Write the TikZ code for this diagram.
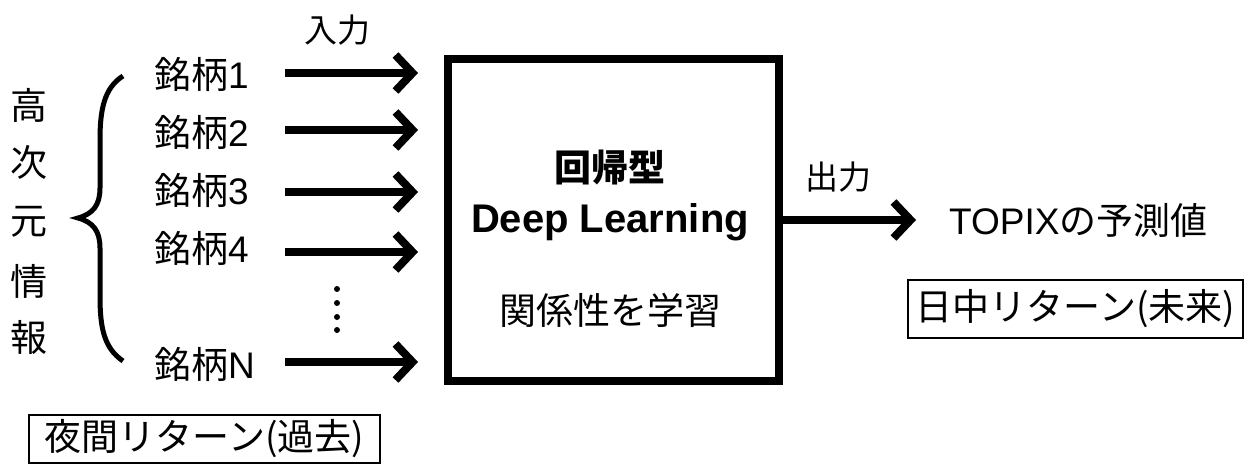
\documentclass[tikz,border=0pt]{standalone}
\usepackage{fontspec}
\setmainfont{Liberation Sans}
\newfontfamily\cjk{Noto Sans CJK JP}
\usetikzlibrary{arrows.meta}
\tikzset{
  lbl/.style={inner sep=0pt, font=\fontsize{37}{40}\selectfont},
  vlbl/.style={inner sep=0pt, font=\cjk\fontsize{37}{40}\selectfont},
  arr/.style={line width=8pt, -{Straight Barb[length=17pt,width=36pt]}},
  tagbox/.style={draw, line width=2pt, inner sep=0pt, font=\cjk\fontsize{37}{40}\selectfont},
  dot/.style={circle, fill, inner sep=0pt, minimum size=6pt}
}
\begin{document}
\begin{tikzpicture}[x=1pt,y=-1pt]
\useasboundingbox (0,0) rectangle (1253,468);
% vertical label
\node[vlbl] (v1) at (29,105) {高};
\node[vlbl] (v2) at (29,162) {次};
\node[vlbl] (v3) at (29,222) {元};
\node[vlbl] (v4) at (29,281) {情};
\node[vlbl] (v5) at (29,337) {報};
% brace
\draw[line width=5pt] (123,76) .. controls (104,88) and (100,110) .. (100,140) -- (100,188)
  .. controls (100,205) and (93,214) .. (78,218)
  .. controls (93,222) and (100,231) .. (100,248) -- (100,296)
  .. controls (100,328) and (104,348) .. (123,361);
% input labels
\node[lbl, anchor=west] (s1) at (154,74) {{\cjk 銘柄}1};
\node[lbl, anchor=west] (s2) at (154,132) {{\cjk 銘柄}2};
\node[lbl, anchor=west] (s3) at (154,190) {{\cjk 銘柄}3};
\node[lbl, anchor=west] (s4) at (154,248) {{\cjk 銘柄}4};
\node[lbl, anchor=west] (sN) at (154,364) {{\cjk 銘柄}N};
\node[lbl, font=\cjk\fontsize{33}{36}\selectfont] (in) at (337,30) {入力};
% dots
\node[dot] (d1) at (337,289) {};
\node[dot] (d2) at (337,303) {};
\node[dot] (d3) at (337,317) {};
\node[dot] (d4) at (337,330) {};
% main box
\node[draw, line width=8pt, minimum width=331pt, minimum height=322pt, inner sep=0pt] (box) at (613.5,220) {};
\node[inner sep=0pt, font=\cjk\bfseries\fontsize{37}{40}\selectfont] (t1) at (610,168) {回帰型};
\node[inner sep=0pt, font=\bfseries\fontsize{40}{42}\selectfont] (t2) at (610,222) {Deep Learning};
\node[inner sep=0pt, font=\cjk\fontsize{37}{40}\selectfont] (t3) at (610,310) {関係性を学習};
% arrows in
\coordinate (a1) at (285,73);
\coordinate (a2) at (285,130);
\coordinate (a3) at (285,192);
\coordinate (a4) at (285,252);
\coordinate (aN) at (285,362);
\foreach \c in {a1,a2,a3,a4,aN}{
  \draw[arr, shorten >=26pt] (\c) -- (\c -| box.west);
}
% output
\coordinate (out) at (916,220);
\draw[arr] (box.east) -- (out);
\node[lbl, font=\cjk\fontsize{33}{36}\selectfont] (outl) at (838,177) {出力};
\node[lbl, anchor=west] (topix) at (949,220) {TOPIX{\cjk の予測値}};
% tag boxes
\node[tagbox, minimum width=335pt, minimum height=58pt] (fut) at (1075.5,309) {日中リターン(未来)};
\node[tagbox, minimum width=351pt, minimum height=48pt] (past) at (204.5,439) {夜間リターン(過去)};
\end{tikzpicture}
\end{document}
